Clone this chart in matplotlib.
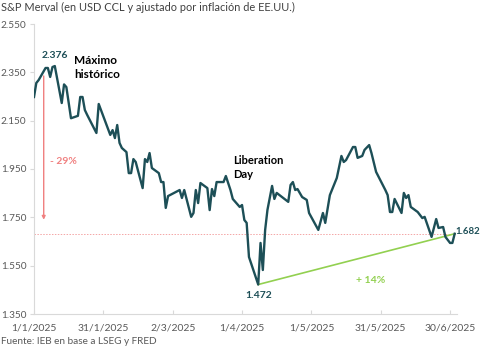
import matplotlib
matplotlib.use("Agg")
import matplotlib.pyplot as plt
import numpy as np
import pandas as pd

plt.rcParams['font.family'] = ['Lato', 'DejaVu Sans']

# ---- data ----
day_offsets = [0, 1, 2, 5, 6, 7, 8, 9, 12, 13, 14, 16, 19, 20, 21, 22, 23, 27, 28,
               33, 34, 35, 36, 37, 38, 40, 41, 42, 43, 44, 47, 48, 49, 50, 51, 54, 55, 56, 57, 58,
               63, 64, 65, 68, 69, 70, 71, 72, 75, 76, 77, 78, 79, 82, 83, 85, 86, 89, 90,
               91, 92, 93, 97, 98, 99, 100, 101, 103, 104, 105, 110, 111, 112, 113, 114, 116, 118, 119,
               123, 125, 126, 128, 131, 133, 134, 135, 138, 139, 140, 142, 143, 145, 146, 148,
               152, 153, 154, 155, 156, 159, 160, 161, 162, 163, 166, 168, 169, 172, 174, 175, 177,
               178, 180, 181, 182]
merval = [2248, 2306, 2318, 2368, 2368, 2331, 2372, 2376, 2223, 2300, 2289, 2160, 2170, 2248, 2248, 2194, 2174, 2099, 2219,
          2091, 2111, 2078, 2132, 2058, 2037, 2020, 1933, 1933, 1991, 1979, 1871, 1991, 1979, 2016, 1954, 1933, 1896, 1896, 1789, 1838,
          1863, 1830, 1863, 1752, 1768, 1863, 1809, 1892, 1871, 1780, 1867, 1838, 1896, 1896, 1921, 1863, 1826, 1793, 1801,
          1739, 1727, 1586, 1472, 1644, 1532, 1698, 1781, 1880, 1826, 1851, 1814, 1884, 1896, 1863, 1867, 1834, 1822, 1768,
          1698, 1768, 1727, 1842, 1913, 2004, 1979, 1987, 2041, 2041, 1996, 2004, 2029, 2049, 2016, 1938,
          1863, 1842, 1772, 1772, 1826, 1768, 1851, 1830, 1842, 1793, 1772, 1747, 1752, 1669, 1743, 1706, 1710,
          1669, 1644, 1644, 1682]
dates = pd.Timestamp("2025-01-01") + pd.to_timedelta(day_offsets, unit="D")

tick_dates = ["2025-01-01", "2025-01-31", "2025-03-02", "2025-04-01", "2025-05-01", "2025-05-31", "2025-06-30"]
tick_labels = ["1/1/2025", "31/1/2025", "2/3/2025", "1/4/2025", "1/5/2025", "31/5/2025", "30/6/2025"]
y_ticks = [1350, 1550, 1750, 1950, 2150, 2350, 2550]
y_tick_labels = ["1.350", "1.550", "1.750", "1.950", "2.150", "2.350", "2.550"]

max_val, min_val, last_val = 2376, 1472, 1682
drop_label, rise_label = "- 29%", "+ 14%"

# ---- figure ----
fig = plt.figure(figsize=(4.81, 3.49), dpi=100)
ax = fig.add_axes([34/481, 1-314/349, (457-34)/481, (314-24)/349])

line_col = "#1d4f57"
ax.plot(dates, merval, color=line_col, lw=1.7, solid_joinstyle="round", zorder=3)

ax.set_ylim(1350, 2550)
ax.set_xlim(pd.Timestamp("2025-01-01"), pd.Timestamp("2025-07-03"))
ax.set_yticks(y_ticks)
ax.set_yticklabels(y_tick_labels)
ax.set_xticks(pd.to_datetime(tick_dates))
ax.set_xticklabels(tick_labels)

for s in ["top", "right"]:
    ax.spines[s].set_visible(False)
for s in ["left", "bottom"]:
    ax.spines[s].set_color("#d9d9d9")
    ax.spines[s].set_linewidth(0.8)
ax.tick_params(axis="y", colors="#d9d9d9", labelcolor="#595959", labelsize=7.2, length=3, pad=2.5)
ax.tick_params(axis="x", colors="#d9d9d9", labelcolor="#595959", labelsize=7.5, length=3, direction="in", pad=7)

# reference dotted line at last value
ax.axhline(last_val, color="#f4a6a6", lw=0.7, ls=(0, (1.5, 1.5)), zorder=1)

# drop arrow
i_max = int(np.argmax(merval))
ax.annotate("", xy=(dates[0] + pd.Timedelta(days=4.2), 1740),
            xytext=(dates[0] + pd.Timedelta(days=4.2), 2335),
            arrowprops=dict(arrowstyle="-|>", color="#f08080", lw=1.0, mutation_scale=5, shrinkA=0, shrinkB=0))
ax.text(dates[0] + pd.Timedelta(days=7), 1983, drop_label, color="#f08080", fontsize=7.5,
        fontweight="bold", va="center", ha="left")

# rise line
i_min = int(np.argmin(merval))
ax.plot([dates[i_min], dates[-1]], [min_val, last_val], color="#92d050", lw=1.2, zorder=2)
ax.text(dates[0] + pd.Timedelta(days=145.5), 1490, rise_label, color="#92d050", fontsize=7.5,
        fontweight="bold", va="center", ha="center")

# value labels
lab_col = "#1d4f57"
ax.text(dates[i_max], max_val + 25, "2.376", color=lab_col, fontsize=7.5, fontweight="bold",
        ha="center", va="bottom")
ax.text(dates[i_min], min_val - 25, "1.472", color=lab_col, fontsize=7.5, fontweight="bold",
        ha="center", va="top")
ax.text(dates[-1] + pd.Timedelta(days=0.3), last_val + 10, "1.682", color=lab_col, fontsize=6.9,
        fontweight="bold", ha="left", va="center", clip_on=False)

ax.text(dates[0] + pd.Timedelta(days=17.5), 2370, "Máximo\nhistórico", color="black", fontsize=8.5,
        fontweight="bold", ha="left", va="center", linespacing=1.25)
ax.text(dates[0] + pd.Timedelta(days=86), 1955, "Liberation\nDay", color="black", fontsize=8,
        fontweight="bold", ha="left", va="center", linespacing=1.3)

fig.text(0.002, 1-7/349, "S&P Merval (en USD CCL y ajustado por inflación de EE.UU.)", color="#404040",
         fontsize=7.9, ha="left", va="center")
fig.text(0.002, 1-342/349, "Fuente: IEB en base a LSEG y FRED", color="#595959",
         fontsize=7.2, ha="left", va="center")

fig.savefig("out.png", dpi=100)
